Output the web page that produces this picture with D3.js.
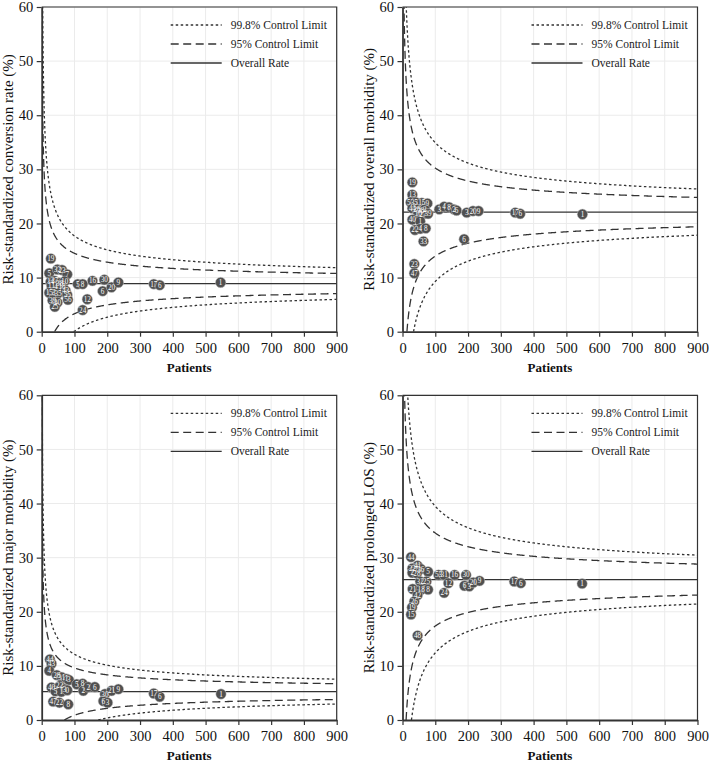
<!DOCTYPE html>
<html><head><meta charset="utf-8">
<script src="https://cdn.jsdelivr.net/npm/d3@7"></script>
<style>body{margin:0;background:#fff} svg text{font-family:"Liberation Serif","DejaVu Serif",serif;}</style>
</head><body><svg id="c" width="709" height="762"></svg>
<script>
// ---------- data ----------
const xTicks = [0,100,200,300,400,500,600,700,800,900];
const yTicks = [0,10,20,30,40,50,60];
const legendLabels = ["99.8% Control Limit","95% Control Limit","Overall Rate"];
const zOuter = 3.09;   // 99.8% limit
const zInner = 1.96;   // 95% limit
const yTitles = ["Risk-standardized conversion rate (%)","Risk-standardized overall morbidity (%)",
                 "Risk-standardized major morbidity (%)","Risk-standardized prolonged LOS (%)"];
const xTitle = "Patients";
const overallRates = [8.9, 22.1, 5.25, 25.95];

// [hospital label, patients, risk-standardized rate %]
const conversionPoints = [
 ["19",28,13.5],["5",23,10.8],["32",48,11.5],["23",62,11.4],["7",78,10.6],
 ["14",27,9.2],["27",40,9.4],["38",55,9.0],["10",70,9.3],["18",62,8.4],["4",44,8.3],["11",30,8.5],
 ["15",23,7.2],["3",37,7.2],["35",50,7.1],["43",73,7.6],["55",78,6.8],["56",80,5.9],
 ["39",33,5.8],["20",48,5.4],["25",40,4.6],
 ["5",110,8.8],["8",125,8.8],["16",155,9.4],["30",191,9.6],["6",186,7.5],["20",213,8.2],
 ["9",234,9.1],["12",139,6.0],["24",125,4.0],["17",342,8.8],["6",360,8.6],["1",546,9.1]
];
const overallMorbidityPoints = [
 ["19",30,27.6],["13",30,25.3],["53",25,23.9],["5",41,23.9],["15",59,23.8],["9",76,23.7],
 ["44",30,22.8],["26",44,22.6],["38",56,22.4],["2",68,22.6],["10",48,21.9],["27",62,21.7],["39",78,21.8],
 ["40",30,20.7],["1",54,20.4],["22",38,18.8],["4",54,19.0],["8",71,19.1],["33",64,16.7],
 ["23",36,12.5],["47",36,10.8],
 ["3",112,22.6],["4",127,23.1],["8",142,23.0],["2",157,22.6],["6",165,22.4],
 ["3",196,22.0],["20",215,22.3],["9",232,22.3],["6",188,17.1],
 ["17",344,22.0],["6",359,21.8],["1",549,21.7]
];
const majorMorbidityPoints = [
 ["44",25,11.2],["43",30,10.4],["4",23,9.1],["28",46,8.3],["31",61,7.9],["1",76,7.6],["3",83,7.4],
 ["40",30,6.0],["22",55,6.3],["3",70,5.7],["5",42,5.3],["1",60,5.2],["0",78,5.5],
 ["47",35,3.4],["22",54,3.2],["8",81,2.9],
 ["5",107,6.6],["8",125,6.7],["2",127,5.4],["2",142,6.1],["6",162,6.1],
 ["30",193,4.8],["21",213,5.4],["9",234,5.7],["6",188,3.5],["3",201,3.2],
 ["17",342,4.9],["6",360,4.3],["1",547,4.8]
];
const prolongedLosPoints = [
 ["44",26,30.1],["41",46,28.5],["22",30,28.0],["7",42,27.9],["36",56,27.9],["5",78,27.4],
 ["2",30,27.2],["28",44,27.1],["32",54,25.6],["25",73,25.6],
 ["21",31,24.2],["18",57,24.1],["8",78,24.1],["42",46,23.1],["26",36,21.9],["19",29,20.8],["15",26,19.5],
 ["48",46,15.6],
 ["53",110,26.8],["31",127,26.8],["16",159,26.8],["12",140,25.3],["24",127,23.5],
 ["30",194,26.8],["6",189,24.8],["3",204,24.7],["20",216,25.4],["9",235,25.7],
 ["17",341,25.6],["6",361,25.3],["1",548,25.2]
];
const panelPoints = [conversionPoints, overallMorbidityPoints, majorMorbidityPoints, prolongedLosPoints];

// ---------- layout ----------
const W = 295, H = 324.7;
const origins = [[41.7,7],[402.5,7],[41.7,395.3],[402.5,395.3]];
const ink = "#333";

const svg = d3.select("#c");

origins.forEach((o, i) => {
  const [x0, y0] = o;
  const p = overallRates[i] / 100;
  const x = d3.scaleLinear().domain([0, 900]).range([0, W]);
  const y = d3.scaleLinear().domain([0, 60]).range([H, 0]);
  const g = svg.append("g").attr("transform", `translate(${x0},${y0})`);

  const clipId = "clip" + i;
  g.append("clipPath").attr("id", clipId).append("rect").attr("width", W).attr("height", H);

  // grid
  g.append("g").selectAll("line").data(xTicks.slice(1)).join("line")
    .attr("x1", d => x(d)).attr("x2", d => x(d)).attr("y1", 0).attr("y2", H)
    .attr("stroke", "#ebebeb").attr("stroke-width", 1);
  g.append("g").selectAll("line").data(yTicks.slice(1)).join("line")
    .attr("y1", d => y(d)).attr("y2", d => y(d)).attr("x1", 0).attr("x2", W)
    .attr("stroke", "#ebebeb").attr("stroke-width", 1);

  // frame
  g.append("path").attr("d", `M0,0H${W}V${H}`).attr("fill", "none").attr("stroke", ink).attr("stroke-width", 1.2);

  // control limits
  const plotArea = g.append("g").attr("clip-path", `url(#${clipId})`);
  const se = n => Math.sqrt(p * (1 - p) / n);
  const ns = d3.range(0.5, 20, 0.05).concat(d3.range(20, 901, 1));
  const line = d3.line().x(d => x(d[0])).y(d => y(d[1]));
  [[zOuter, "2.5,2.5"], [zInner, "8,4.5"]].forEach(([z, dash]) => {
    const upper = ns.map(n => [n, 100 * (p + z * se(n))]).filter(d => d[1] < 80);
    const n0 = z * z * (1 - p) / p;
    const lower = [[n0, 0]].concat(ns.filter(n => n > n0).map(n => [n, 100 * (p - z * se(n))]));
    [upper, lower].forEach(pts => {
      plotArea.append("path").attr("d", line(pts)).attr("fill", "none")
        .attr("stroke", ink).attr("stroke-width", 1.3).attr("stroke-dasharray", dash);
    });
  });
  plotArea.append("line").attr("x1", 0).attr("x2", W)
    .attr("y1", y(overallRates[i])).attr("y2", y(overallRates[i]))
    .attr("stroke", ink).attr("stroke-width", 1.3);

  // legend
  const lg = g.append("g").attr("transform", "translate(129,18)");
  ["2.5,2.5", "8,4.5", null].forEach((dash, k) => {
    const row = lg.append("g").attr("transform", `translate(0,${k * 19})`);
    const l = row.append("line").attr("x1", 0).attr("x2", 51).attr("stroke", ink).attr("stroke-width", 1.3);
    if (dash) l.attr("stroke-dasharray", dash);
    row.append("text").attr("x", 60).attr("y", 0).attr("dy", "0.35em")
      .attr("font-size", 11.5).attr("fill", "#222").text(legendLabels[k]);
  });

  // points
  const pg = g.append("g");
  const pts = panelPoints[i];
  pg.selectAll("circle").data(pts).join("circle")
    .attr("cx", d => x(d[1])).attr("cy", d => y(d[2])).attr("r", 5.2)
    .attr("fill", "#505050").attr("stroke", "#c8c8c8").attr("stroke-width", 0.5);
  pg.selectAll("text").data(pts).join("text")
    .attr("x", d => x(d[1])).attr("y", d => y(d[2])).attr("dy", "0.35em")
    .attr("text-anchor", "middle").attr("font-size", 7.2)
    .attr("fill", "#fff").text(d => d[0]);

  // axes
  const ax = g.append("g").attr("transform", `translate(0,${H})`)
    .call(d3.axisBottom(x).tickValues(xTicks).tickSize(5).tickSizeOuter(0).tickPadding(6));
  const ay = g.append("g")
    .call(d3.axisLeft(y).tickValues(yTicks).tickSize(5).tickSizeOuter(0).tickPadding(3.5));
  [ax, ay].forEach(a => {
    a.attr("font-family", null);
    a.select(".domain").attr("stroke", ink).attr("stroke-width", 1.8);
    a.selectAll(".tick line").attr("stroke", ink).attr("stroke-width", 1.2);
    a.selectAll(".tick text").attr("font-size", 14.5).attr("fill", "#111");
  });

  // titles
  g.append("text").attr("x", W / 2).attr("y", H + 40).attr("text-anchor", "middle")
    .attr("font-weight", "bold").attr("font-size", 13).attr("fill", "#111").text(xTitle);
  g.append("text").attr("transform", `translate(-29,${H / 2}) rotate(-90)`).attr("text-anchor", "middle")
    .attr("font-size", 15).attr("fill", "#111").text(yTitles[i]);
});
</script></body></html>
